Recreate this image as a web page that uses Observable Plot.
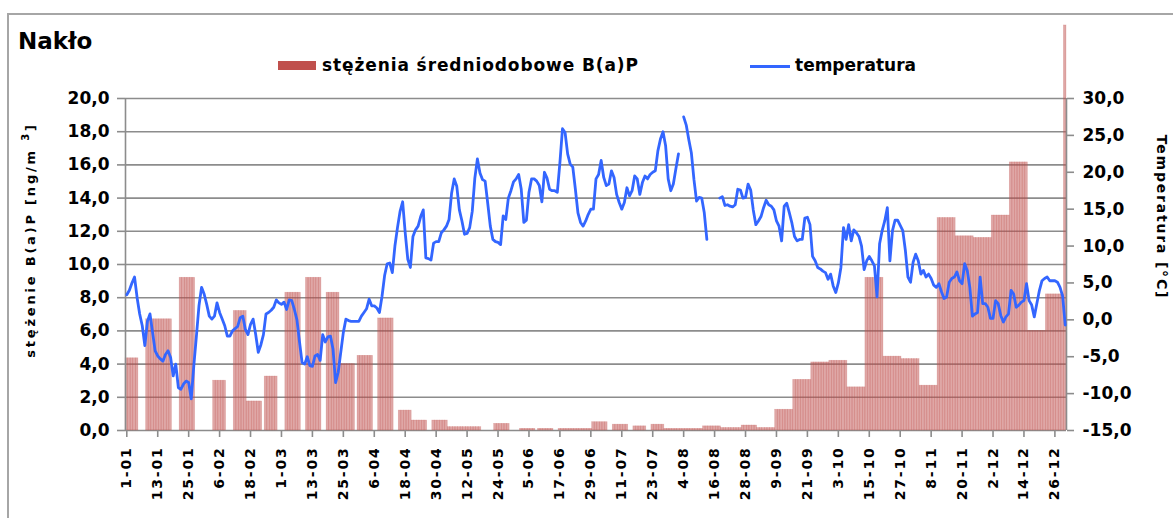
<!DOCTYPE html>
<html><head><meta charset="utf-8">
<script src="https://cdn.jsdelivr.net/npm/d3@7"></script>
<script src="https://cdn.jsdelivr.net/npm/@observablehq/plot@0.6"></script>
<style>
body{margin:0;background:#fff;}
#wrap{position:relative;width:1173px;height:518px;overflow:hidden;font-family:"DejaVu Sans",sans-serif;font-weight:bold;color:#000;background:#fff;}
#frame{position:absolute;left:7px;top:13px;width:1200px;height:600px;border-left:2px solid #a6a6a6;border-top:2px solid #a6a6a6;}
#chart{position:absolute;left:0;top:0;}
.t{position:absolute;white-space:nowrap;}
.rot{transform:translate(-50%,-50%) rotate(-90deg);}
.rot90{transform:translate(-50%,-50%) rotate(90deg);}
</style></head><body>
<div id="wrap">
<div id="frame"></div>
<div id="chart"></div>
<div class="t" style="left:18px;top:28px;font-size:23px;">Nakło</div>
<div class="t" style="left:278px;top:61px;width:38px;height:9px;background:#c0504d;"></div>
<div class="t" style="left:322px;top:55px;font-size:17px;letter-spacing:0.9px;">stężenia średniodobowe B(a)P</div>
<div class="t" style="left:750px;top:64.5px;width:40px;height:3px;background:#3366ff;"></div>
<div class="t" style="left:795px;top:55px;font-size:17px;">temperatura</div>
<div class="t rot" style="left:29px;top:240px;font-size:13px;letter-spacing:2.8px;">stężenie B(a)P [ng/m <sup style="font-size:10px">3</sup>]</div>
<div class="t rot90" style="left:1162px;top:217px;font-size:14px;letter-spacing:1.8px;">Temperatura [°C]</div>
</div>
<script>
// x tick labels (every 12th day starting 1 January)
const xTickLabels = ["1-01","13-01","25-01","6-02","18-02","1-03","13-03","25-03","6-04","18-04","30-04","12-05","24-05","5-06","17-06","29-06","11-07","23-07","4-08","16-08","28-08","9-09","21-09","3-10","15-10","27-10","8-11","20-11","2-12","14-12","26-12"];
const leftTicks = [0,2,4,6,8,10,12,14,16,18,20];
const rightTicks = [-15,-10,-5,0,5,10,15,20,25,30];

// B(a)P daily concentration groups: first day index (0 = 1 Jan), day after last, value [ng/m3]
const bapStart = [0,8,21,34,42,47,54,62,70,78,83,90,98,106,111,119,125,131,143,153,160,168,174,181,189,197,204,209,224,231,239,245,252,259,266,273,280,287,294,301,308,315,322,329,336,343,350,357,364];
const bapEnd   = [5,18,27,39,47,53,59,68,76,83,89,96,104,111,117,125,131,138,149,159,166,174,181,187,195,202,209,224,231,239,245,252,259,266,273,280,287,294,301,308,315,322,329,336,343,350,357,364,365];
const bapValue = [4.35,6.7,9.2,3.0,7.2,1.75,3.25,8.3,9.2,8.3,4.0,4.5,6.75,1.2,0.6,0.6,0.2,0.2,0.4,0.1,0.1,0.1,0.1,0.5,0.35,0.25,0.35,0.1,0.25,0.15,0.3,0.15,1.25,3.05,4.1,4.2,2.6,9.2,4.45,4.3,2.7,12.8,11.7,11.6,12.95,16.15,6.0,8.2,24.4];

// daily temperature [°C], day 0 = 1 Jan; null = no data
const temperature = [
3.4,4.0,5.0,5.8,3.0,0.8,-0.8,-3.5,-0.2,0.8,
-1.7,-4.2,-4.9,-5.3,-5.6,-4.7,-4.2,-5.1,-7.6,-6.0,
-9.2,-9.4,-8.7,-8.3,-8.5,-10.7,-6.2,-2.2,1.9,4.4,
3.5,2.1,0.5,0.1,0.5,2.3,1.0,0.1,-0.8,-2.2,
-2.2,-1.5,-1.2,-0.9,0.3,0.5,-1.3,-2.0,-0.6,0.1,
-2.0,-4.4,-3.4,-2.0,0.8,1.0,1.3,1.7,2.7,2.3,
2.1,2.4,1.4,2.7,2.6,1.4,0.0,-3.0,-5.8,-6.0,
-5.0,-6.2,-6.3,-4.9,-4.7,-5.5,-2.0,-3.0,-2.3,-2.2,
-4.0,-8.5,-7.1,-4.4,-1.7,0.1,-0.1,-0.2,-0.2,-0.2,
-0.2,0.5,1.0,1.5,2.8,1.9,1.9,1.6,1.0,3.2,
6.0,7.6,7.7,6.4,10.0,12.5,14.7,16.0,11.8,8.2,
7.1,11.3,12.2,12.7,14.0,14.9,8.4,8.3,8.1,10.4,
10.6,10.6,11.8,12.2,12.7,13.6,17.2,19.1,18.1,14.9,
13.4,11.6,11.7,12.5,14.7,19.2,21.8,19.9,19.0,18.8,
15.8,12.7,10.9,10.6,10.5,10.2,14.1,13.6,16.5,17.5,
18.7,19.1,19.7,17.7,13.2,13.5,17.3,19.1,19.1,18.8,
18.2,16.0,20.0,19.2,17.7,17.5,17.5,17.3,21.3,25.9,
25.4,22.5,21.1,20.7,17.7,14.5,13.2,12.7,13.4,14.3,
15.0,15.0,19.1,19.7,21.6,19.3,18.2,18.4,20.2,19.3,
17.0,15.9,15.0,15.9,17.9,16.8,17.5,19.5,19.1,17.0,
18.6,19.5,19.1,19.7,20.0,20.2,22.9,24.5,25.5,23.6,
19.1,17.5,18.4,20.5,22.5,null,27.5,26.4,24.4,22.6,
19.0,16.1,16.6,16.5,14.5,10.9,null,null,null,null,
16.5,16.7,15.5,15.6,15.4,15.3,15.6,17.7,17.6,16.5,
16.6,18.4,17.6,14.9,12.9,13.4,14.0,15.2,16.2,15.6,
15.4,14.9,13.4,12.7,10.7,15.4,15.8,14.5,13.1,11.3,
10.7,10.9,10.9,13.8,13.9,12.9,8.6,8.0,7.1,6.9,
6.6,6.4,5.5,6.2,4.6,3.7,5.0,7.1,12.5,10.9,
12.9,10.7,12.2,11.8,11.3,10.0,6.8,8.0,8.6,8.0,
7.3,3.1,10.3,12.1,13.4,15.2,8.0,12.1,13.5,13.5,
12.8,12.1,9.4,5.8,5.1,7.8,8.9,8.0,6.2,6.7,
5.8,6.2,5.6,4.7,4.4,4.9,3.8,2.9,3.1,5.1,
5.6,5.8,6.5,5.3,4.9,7.6,6.7,4.4,0.5,0.8,
1.0,5.8,2.2,2.2,1.7,0.2,0.2,2.6,2.2,0.6,
-0.3,0.4,0.8,4.0,3.5,1.7,2.0,2.4,2.6,4.9,
2.6,2.0,0.4,2.2,4.0,5.3,5.6,5.8,5.3,5.3,
5.3,5.1,4.4,3.2,-0.7];

// map temperature (right axis -15..30) onto the left axis (0..20)
const tToY = t => (t + 15) * 20 / 45;
const yToT = y => y * 45 / 20 - 15;
const fmt = v => v.toFixed(1).replace(".", ",");

const bapDaily = [];
bapStart.forEach((s, i) => {
  for (let d = s; d < bapEnd[i]; d++) bapDaily.push({x1: d, x2: d + 1, v: bapValue[i]});
});
const tempDaily = temperature.map((t, d) => ({x: d + 0.5, y: t == null ? NaN : tToY(t)}));
const xTickPos = xTickLabels.map((_, i) => i * 12 + 0.5);

const grid = "#8c8c8c";
const plot = Plot.plot({
  width: 1173, height: 518,
  marginLeft: 125, marginRight: 107, marginTop: 98, marginBottom: 88,
  x: {domain: [0, 365]},
  y: {domain: [0, 20]},
  style: {fontFamily: "DejaVu Sans", fontWeight: "bold", fontSize: "17px", background: "transparent", overflow: "visible", color: "#000"},
  marks: [
    Plot.ruleY(leftTicks, {y: d => d, stroke: grid, strokeWidth: 1.6}),
    Plot.rect(bapDaily, {x1: "x1", x2: "x2", y1: 0, y2: "v", fill: "#c0504d", fillOpacity: 0.5, stroke: "#c0504d", strokeOpacity: 0.3, strokeWidth: 0.6}),
    Plot.ruleX([0, 365], {x: d => d, stroke: grid, strokeWidth: 1.6}),
    Plot.lineY(tempDaily, {x: "x", y: "y", stroke: "#3366ff", strokeWidth: 2.8}),
    Plot.axisY({ticks: leftTicks, tickFormat: fmt, tickSize: 8, tickPadding: 8, stroke: grid, strokeWidth: 1.6, label: null}),
    Plot.axisY({anchor: "right", ticks: rightTicks.map(tToY), tickFormat: v => fmt(Math.round(yToT(v))), tickSize: 7, tickPadding: 9, stroke: grid, strokeWidth: 1.6, label: null}),
    Plot.axisX({ticks: xTickPos, tickFormat: v => xTickLabels[Math.round((v - 0.5) / 12)], tickRotate: -90, tickSize: 7, tickPadding: 9, stroke: grid, strokeWidth: 1.6, fontSize: 14, label: null})
  ]
});
document.getElementById("chart").appendChild(plot);
d3.select(plot).selectAll('g[aria-label="x-axis tick label"] text').style("letter-spacing", "1.8px");
</script>
</body></html>
